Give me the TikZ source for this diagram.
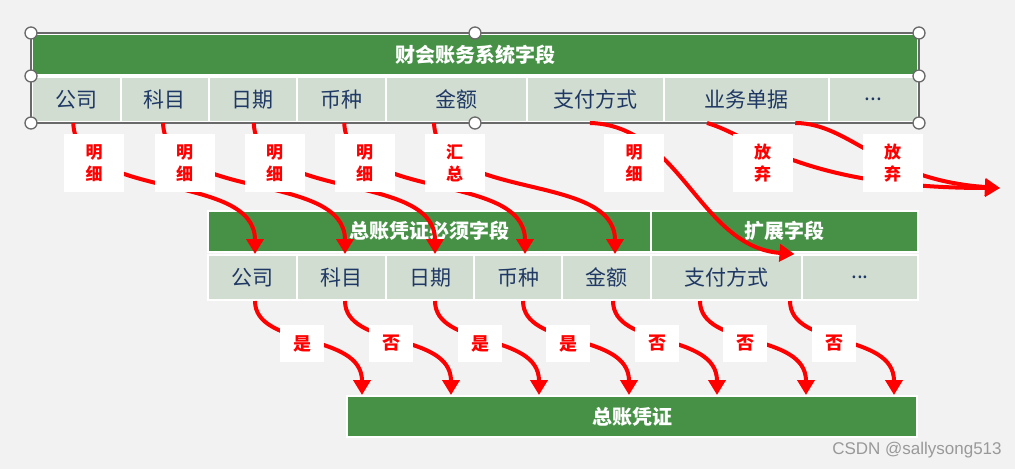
\documentclass[tikz,border=0pt]{standalone}
\usepackage{fontspec}
\setmainfont{Noto Sans CJK SC}
\setsansfont{Liberation Sans}
\usepackage{xcolor}
\usetikzlibrary{arrows.meta,calc}

\definecolor{hdgreen}{RGB}{71,145,71}
\definecolor{cellgray}{RGB}{209,221,209}
\definecolor{navy}{RGB}{31,56,100}
\definecolor{bggray}{RGB}{242,242,242}
\definecolor{handlegray}{RGB}{105,105,105}

\begin{document}
\begin{tikzpicture}[
    x=1pt, y=-1pt,
    head/.style={rectangle, draw=white, line width=2pt, fill=hdgreen, text=white, font=\fontsize{20}{24}\selectfont\bfseries, minimum height=41pt, inner sep=0pt},
    field/.style={rectangle, draw=white, line width=2pt, fill=cellgray, text=navy, font=\fontsize{21}{24}\selectfont, minimum height=45pt, inner sep=0pt},
    tag/.style={rectangle, fill=white, text=red, font=\fontsize{17}{22}\selectfont\bfseries, minimum width=60pt, minimum height=58pt, align=center, inner sep=0pt},
    answer/.style={rectangle, fill=white, text=red, font=\fontsize{18}{20}\selectfont\bfseries, minimum width=44pt, minimum height=37pt, inner sep=0pt},
    flow/.style={red, line width=4pt, -{Triangle[length=15pt,width=17pt]}},
    handle/.style={draw=handlegray, fill=white, line width=1.3pt}
]

% Canvas
\fill[bggray] (0,0) rectangle (1015,469);
\useasboundingbox (0,0) rectangle (1015,469);

% Finance system fields
\node[head, minimum width=886pt] (finance) at (475,54.5) {财会账务系统字段};
\node[field, minimum width=88.5pt] (company) at (76.25,99.5) {公司};
\node[field, minimum width=88pt] (subject) at (164.5,99.5) {科目};
\node[field, minimum width=88.5pt] (date) at (252.75,99.5) {日期};
\node[field, minimum width=88.5pt] (currency) at (341.25,99.5) {币种};
\node[field, minimum width=141pt] (amount) at (456,99.5) {金额};
\node[field, minimum width=137pt] (payment) at (595,99.5) {支付方式};
\node[field, minimum width=165pt] (bill) at (746,99.5) {业务单据};
\node[field, minimum width=89.5pt] (more) at (873.25,99.5) {...};

% Selection frame
\draw[handlegray, line width=1.3pt] (finance.north west) rectangle (more.south east);
\path[handle] (finance.north west) circle[radius=6pt] (finance.north) circle[radius=6pt] (finance.north east) circle[radius=6pt]
    (company.north west) circle[radius=6pt] (more.north east) circle[radius=6pt]
    (company.south west) circle[radius=6pt] (finance.north |- more.south) circle[radius=6pt] (more.south east) circle[radius=6pt];

% Voucher fields
\node[head, minimum width=443pt] (required) at (429.5,231) {总账凭证必须字段};
\node[head, minimum width=267pt] (extension) at (784.5,231) {扩展字段};
\node[field, minimum width=89pt] (gcompany) at (252.5,277.5) {公司};
\node[field, minimum width=89pt] (gsubject) at (341.5,277.5) {科目};
\node[field, minimum width=88pt] (gdate) at (430,277.5) {日期};
\node[field, minimum width=88pt] (gcurrency) at (518,277.5) {币种};
\node[field, minimum width=89pt] (gamount) at (606.5,277.5) {金额};
\node[field, minimum width=151pt] (gpayment) at (726.5,277.5) {支付方式};
\node[field, minimum width=116pt] (gmore) at (860,277.5) {...};

% Voucher
\node[head, minimum width=570pt] (voucher) at (632,416.5) {总账凭证};

\coordinate (drop) at (1000,188);

% Arrows from system fields
\draw[flow] ([xshift=-3]company.south) .. controls +(3,79) and +(0,-83) .. ([xshift=2.5]gcompany.north);
\draw[flow] ([xshift=-1.5]subject.south) .. controls +(3,79) and +(0,-83) .. ([xshift=3.5]gsubject.north);
\draw[flow] ([xshift=1]date.south) .. controls +(3,79) and +(0,-83) .. ([xshift=5]gdate.north);
\draw[flow] ([xshift=3]currency.south) .. controls +(3,79) and +(0,-83) .. ([xshift=7]gcurrency.north);
\draw[flow] ([xshift=-22]amount.south) .. controls +(3,79) and +(0,-83) .. ([xshift=8.5]gamount.north);
\draw[flow] ([xshift=-5]payment.south) .. controls +(90,2) and +(-95,-7) .. ([xshift=68]gpayment.north);
\draw[flow] ([xshift=-39]bill.south) .. controls +(43,12) and +(-200,0) .. (drop);
\draw[flow] ([xshift=-78]more.south) .. controls +(55,0) and +(-120,-8) .. (drop);

% Arrows to voucher
\draw[flow] ([xshift=2.5]gcompany.south) .. controls +(0,47) and +(0,-63) .. ([xshift=16]voucher.north west);
\draw[flow] ([xshift=3.5]gsubject.south) .. controls +(0,47) and +(0,-63) .. ([xshift=105]voucher.north west);
\draw[flow] ([xshift=5]gdate.south) .. controls +(0,47) and +(0,-63) .. ([xshift=193]voucher.north west);
\draw[flow] ([xshift=5]gcurrency.south) .. controls +(0,47) and +(0,-63) .. ([xshift=283]voucher.north west);
\draw[flow] ([xshift=6.5]gamount.south) .. controls +(0,47) and +(0,-63) .. ([xshift=371]voucher.north west);
\draw[flow] ([xshift=-26.5]gpayment.south) .. controls +(0,47) and +(0,-63) .. ([xshift=460]voucher.north west);
\draw[flow] ([xshift=-70]gmore.south) .. controls +(0,47) and +(0,-63) .. ([xshift=548]voucher.north west);

% Handling labels
\node[tag] (tcompany) at (94,163) {明\\细};
\node[tag] (tsubject) at (184.5,163) {明\\细};
\node[tag] (tdate) at (274.5,163) {明\\细};
\node[tag] (tcurrency) at (364.5,163) {明\\细};
\node[tag] (tamount) at (454.5,163) {汇\\总};
\node[tag] (tpayment) at (634,163) {明\\细};
\node[tag] (tbill) at (762.5,163) {放\\弃};
\node[tag] (tmore) at (892.5,163) {放\\弃};

% Required labels
\node[answer] (acompany) at (302,343.5) {是};
\node[answer] (asubject) at (391,343.5) {否};
\node[answer] (adate) at (480,343.5) {是};
\node[answer] (acurrency) at (568,343.5) {是};
\node[answer] (aamount) at (657,343.5) {否};
\node[answer] (apayment) at (745,343.5) {否};
\node[answer] (amore) at (834,343.5) {否};

% Watermark
\node[font=\sffamily\fontsize{17}{20}\selectfont, text=gray!80] (mark) at (917,450) {CSDN @sallysong513};

\end{tikzpicture}
\end{document}
